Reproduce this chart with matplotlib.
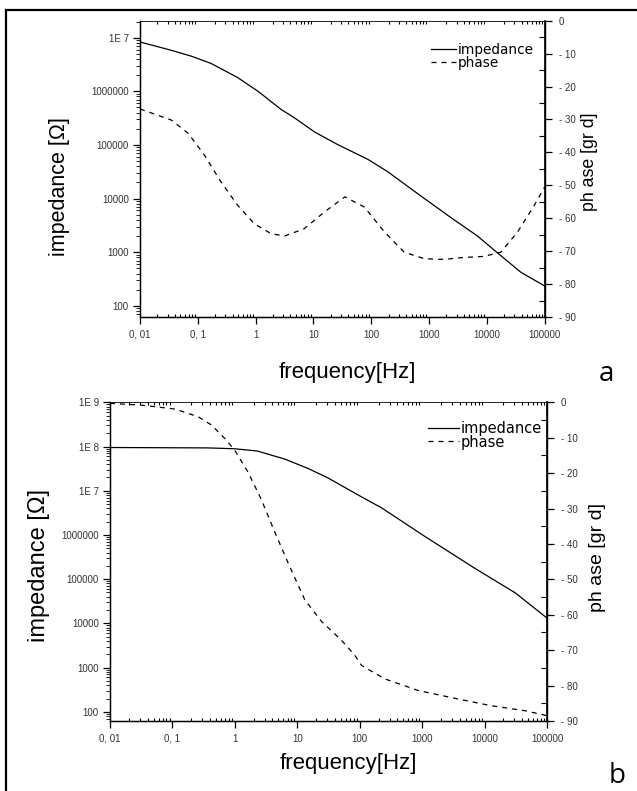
import matplotlib
matplotlib.use('Agg')
import matplotlib.pyplot as plt
from matplotlib.lines import Line2D
from matplotlib.ticker import FixedLocator, FuncFormatter, LogLocator, NullFormatter, MultipleLocator

plt.rcParams['font.family'] = ['Liberation Sans', 'DejaVu Sans']

# panel a
freq_a_imp = [0.01, 0.035, 0.078, 0.17, 0.49, 1.1, 2.75, 4.7, 10.5, 26, 87, 190, 720, 2400, 6900, 14000, 39000, 100000]
imp_a = [8.3e6, 5.8e6, 4.5e6, 3.3e6, 1.8e6, 1.0e6, 4.6e5, 3.2e5, 1.74e5, 1.02e5, 5.4e4, 3.2e4, 1.12e4, 4.4e3, 2.0e3, 1050, 420, 235]
freq_a_ph = [0.01, 0.035, 0.068, 0.13, 0.25, 0.49, 0.95, 1.86, 3.16, 6.9, 15.5, 35, 76, 170, 370, 830, 1800, 4070, 8900, 17400, 33900, 66000, 100000]
phase_a = [-26.8, -30.2, -34.2, -40.8, -48.9, -56.1, -61.7, -64.7, -65.4, -63.2, -58.1, -53.5, -56.6, -64.2, -70.3, -72.3, -72.5, -71.9, -71.6, -70.3, -64.2, -56.1, -50.5]

# panel b
freq_b_imp = [0.01, 0.37, 1.0, 2.3, 6.3, 14.8, 31, 93, 224, 1100, 6900, 31000, 100000]
imp_b = [9.5e7, 9.3e7, 8.9e7, 7.9e7, 5.2e7, 3.2e7, 1.95e7, 8.1e6, 4.1e6, 9.3e5, 1.78e5, 4.9e4, 1.32e4]
freq_b_ph = [0.01, 0.032, 0.11, 0.26, 0.42, 0.69, 1.0, 1.62, 2.63, 4.4, 7.1, 13.2, 24.5, 51, 83, 107, 251, 870, 3800, 12900, 44700, 100000]
phase_b = [-0.3, -0.8, -1.9, -4.1, -6.4, -10.2, -13.6, -19.7, -27.3, -36.8, -45.3, -55.8, -61.9, -67.2, -71.4, -74.3, -78.1, -81.4, -83.8, -85.7, -87.1, -88.5]

x_ticks = [0.01, 0.1, 1, 10, 100, 1000, 10000, 100000]
x_labels = ['0, 01', '0, 1', '1', '10', '100', '1000', '10000', '100000']
y_ticks_a = [100, 1000, 10000, 100000, 1e6, 1e7]
y_labels_a = ['100', '1000', '10000', '100000', '1000000', '1E 7']
y_ticks_b = [100, 1000, 10000, 100000, 1e6, 1e7, 1e8, 1e9]
y_labels_b = ['100', '1000', '10000', '100000', '1000000', '1E 7', '1E 8', '1E 9']
ph_ticks = [0, -10, -20, -30, -40, -50, -60, -70, -80, -90]
ph_labels = ['0'] + ['- %d' % (-t) for t in ph_ticks[1:]]

W, H = 637, 791
fig = plt.figure(figsize=(W / 100, H / 100), dpi=100)


def box(l, t, r, b):
    return [l / W, 1 - b / H, (r - l) / W, (b - t) / H]


def fixed(ax_axis, ticks, labels):
    ax_axis.set_major_locator(FixedLocator(ticks))
    ax_axis.set_major_formatter(FuncFormatter(lambda v, p: labels[ticks.index(v)] if v in ticks else ''))


def panel(rect, fi, zi, fp, pp, yticks, ylabels, ylim, legfs, leg_xy, hl):
    ax = fig.add_axes(box(*rect))
    ax.set_xscale('log')
    ax.set_yscale('log')
    ax.plot(fi, zi, color='k', lw=0.9, label='impedance')
    ax.set_xlim(0.01, 100000)
    ax.set_ylim(*ylim)
    fixed(ax.xaxis, x_ticks, x_labels)
    fixed(ax.yaxis, yticks, ylabels)
    ax.xaxis.set_minor_locator(LogLocator(base=10, subs=range(2, 10), numticks=20))
    ax.yaxis.set_minor_locator(LogLocator(base=10, subs=range(2, 10), numticks=20))
    ax.xaxis.set_minor_formatter(NullFormatter())
    ax.yaxis.set_minor_formatter(NullFormatter())
    ax.tick_params(axis='x', which='major', direction='out', length=5, width=0.9,
                   labelsize=7, pad=4, top=False, colors='k', labelcolor='#333333')
    ax.tick_params(axis='x', which='minor', direction='in', length=2.5, width=0.8, top=True)
    ax.tick_params(axis='y', which='major', direction='out', length=5, width=0.9,
                   labelsize=7, pad=3, labelcolor='#333333')
    ax.tick_params(axis='y', which='minor', direction='out', length=3, width=0.6)
    for s in ax.spines.values():
        s.set_linewidth(1.0)
    ax.spines['top'].set_linewidth(0.6)

    ax2 = ax.twinx()
    ax2.plot(fp, pp, color='k', lw=0.9, dashes=(4, 4), label='phase')
    ax2.set_ylim(-90, 0)
    ax2.yaxis.set_major_locator(FixedLocator(ph_ticks))
    ax2.yaxis.set_major_formatter(FuncFormatter(lambda v, p: ph_labels[ph_ticks.index(round(v))] if round(v) in ph_ticks else ''))
    ax2.yaxis.set_minor_locator(MultipleLocator(5))
    ax2.tick_params(axis='y', which='major', direction='out', length=5, width=0.9,
                    labelsize=7, pad=5, labelcolor='#333333')
    ax2.tick_params(axis='y', which='minor', direction='in', length=4, width=0.8)
    ax2.spines['right'].set_linewidth(1.2)
    ax2.spines['top'].set_visible(False)

    h1, l1 = ax.get_legend_handles_labels()
    h2, l2 = ax2.get_legend_handles_labels()
    ax2.legend(h1 + h2, l1 + l2, loc='upper left', bbox_to_anchor=(leg_xy[0] / W, 1 - leg_xy[1] / H),
               bbox_transform=fig.transFigure, frameon=False, borderpad=0, borderaxespad=0,
               handlelength=hl, handletextpad=0.12, labelspacing=-0.1,
               prop={'family': 'DejaVu Sans', 'size': legfs})
    return ax, ax2


panel((140, 20.7, 544.7, 317), freq_a_imp, imp_a, freq_a_ph, phase_a,
      y_ticks_a, y_labels_a, (62, 2.07e7), 9.8, (431, 43), 1.85)
panel((110, 402.3, 547, 721), freq_b_imp, imp_b, freq_b_ph, phase_b,
      y_ticks_b, y_labels_b, (62, 1e9), 10.5, (428, 421), 2.1)


def ftext(x, y, s, **kw):
    fig.text(x / W, 1 - y / H, s, ha='center', va='center', **kw)


ftext(59, 187, 'impedance [Ω]', rotation=90, fontsize=15.5)
ftext(589, 162, 'ph ase [gr d]', rotation=90, fontsize=12.8)
ftext(347, 373, 'frequency[Hz]', fontsize=16)
ftext(606, 374, 'a', fontsize=20, family=['Open Sans', 'DejaVu Sans'])
ftext(39, 566, 'impedance [Ω]', rotation=90, fontsize=17)
ftext(598, 557, 'ph ase [gr d]', rotation=90, fontsize=14)
ftext(348, 763, 'frequency[Hz]', fontsize=16)
ftext(617, 776, 'b', fontsize=20, family=['Open Sans', 'DejaVu Sans'])

# outer frame (only top and left visible)
fig.add_artist(Line2D([6 / W, 1], [1 - 10 / H, 1 - 10 / H], transform=fig.transFigure, color='k', lw=1.6))
fig.add_artist(Line2D([6 / W, 6 / W], [0, 1 - 10 / H], transform=fig.transFigure, color='k', lw=1.6))

fig.savefig('out.png', dpi=100)
